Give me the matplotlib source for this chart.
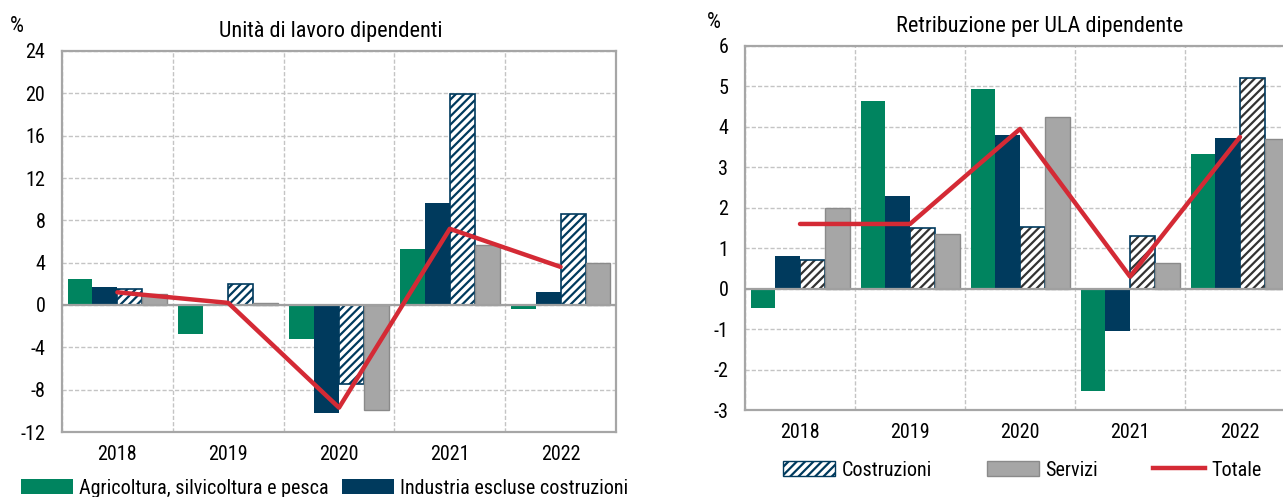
import matplotlib
matplotlib.use("Agg")
import matplotlib.pyplot as plt
from matplotlib import font_manager
from matplotlib.lines import Line2D
from matplotlib.patches import Patch
import numpy as np

# pick a narrow/condensed face if one is installed (reference uses Arial Narrow look)
fp = None
cands = []
for f in font_manager.fontManager.ttflist:
    fn = f.fname.lower()
    if ("narrow" in fn or "condensed" in fn) and "bold" not in fn and "italic" not in fn \
            and "oblique" not in fn and "light" not in fn and "medium" not in fn \
            and "semi" not in fn and "extra" not in fn and "black" not in fn and "thin" not in fn:
        cands.append(f.fname)
for key in ["liberationsansnarrow", "arialn", "robotocondensed", "dejavusanscondensed",
            "opensans_condensed", "condensed"]:
    hit = [c for c in cands if key in c.lower().replace("-", "").replace(" ", "")]
    if hit:
        fp = font_manager.FontProperties(fname=sorted(hit, key=len)[0])
        break
NARROW = fp is not None
if fp is None:
    fp = font_manager.FontProperties(family="Liberation Sans")

years = ["2018", "2019", "2020", "2021", "2022"]
series_names = ["Agricoltura, silvicoltura e pesca", "Industria escluse costruzioni",
                "Costruzioni", "Servizi", "Totale"]

# Unità di lavoro dipendenti (var. %)
ula_agri = [2.5, -2.7, -3.2, 5.3, -0.4]
ula_ind = [1.7, 0.1, -10.2, 9.6, 1.2]
ula_costr = [1.5, 1.95, -7.5, 19.9, 8.6]
ula_serv = [1.05, 0.15, -9.9, 5.7, 3.95]
ula_tot = [1.2, 0.2, -9.7, 7.2, 3.6]

# Retribuzione per ULA dipendente (var. %)
ret_agri = [-0.47, 4.64, 4.94, -2.54, 3.32]
ret_ind = [0.81, 2.28, 3.79, -1.05, 3.72]
ret_costr = [0.72, 1.49, 1.53, 1.30, 5.2]
ret_serv = [2.0, 1.34, 4.24, 0.64, 3.7]
ret_tot = [1.6, 1.6, 3.95, 0.3, 3.75]

GREEN = "#00845f"
NAVY = "#003a5d"
GREY = "#a6a6a6"
GREYEDGE = "#8a8a8a"
RED = "#d42a35"
GRID = "#c4c4c4"

plt.rcParams["hatch.linewidth"] = 1.6

W, H = 1283, 497
fig = plt.figure(figsize=(W / 100, H / 100), dpi=100)


def F(size):
    p = fp.copy()
    p.set_size(size)
    return p


def frac(x0, y0, x1, y1):
    return [x0 / W, 1 - y1 / H, (x1 - x0) / W, (y1 - y0) / H]


TICK = 14.5 if NARROW else 12.5


def draw(ax, agri, ind, costr, serv, tot, ylim, yticks, hatch_color):
    x = np.arange(len(years))
    bw = 0.225
    ax.bar(x - 1.5 * bw, agri, bw, color=GREEN, zorder=3)
    ax.bar(x - 0.5 * bw, ind, bw, color=NAVY, zorder=3)
    ax.bar(x + 0.5 * bw, costr, bw, color="white", edgecolor=hatch_color,
           hatch="////", linewidth=0, zorder=3)
    ax.bar(x + 0.5 * bw, costr, bw, color="none", edgecolor=NAVY,
           linewidth=1.2, zorder=3)
    ax.bar(x + 1.5 * bw, serv, bw, color=GREY, edgecolor=GREYEDGE,
           linewidth=1.0, zorder=3)
    ax.plot(x, tot, color=RED, lw=3.2, zorder=4, solid_capstyle="round")
    ax.axhline(0, color="#a0a0a0", lw=1.6, zorder=3.5)
    ax.set_xlim(-0.5, len(years) - 0.5)
    ax.set_ylim(*ylim)
    ax.set_yticks(yticks)
    ax.set_yticklabels([str(t) for t in yticks], fontproperties=F(TICK))
    ax.set_xticks(x)
    ax.set_xticklabels(years, fontproperties=F(TICK))
    ax.set_xticks(np.arange(len(years) + 1) - 0.5, minor=True)
    ax.tick_params(which="both", length=0, colors="black")
    ax.tick_params(axis="x", pad=9)
    ax.tick_params(axis="y", pad=12)
    ax.grid(True, axis="y", which="major", color=GRID, ls=(0, (3, 1.5)), lw=1.0, zorder=1)
    ax.grid(True, axis="x", which="minor", color=GRID, ls=(0, (3, 1.5)), lw=1.0, zorder=1)
    for s in ax.spines.values():
        s.set_color("#a6a6a6")
        s.set_linewidth(1.6)


TITLE = 16 if NARROW else 14.5
LEG = 14.5 if NARROW else 13

ax1 = fig.add_axes(frac(62, 51, 616, 432))
draw(ax1, ula_agri, ula_ind, ula_costr, ula_serv, ula_tot, (-12, 24),
     list(range(-12, 25, 4)), NAVY)
ax1.set_title("Unità di lavoro dipendenti", fontproperties=F(TITLE), pad=10)
ax1.title.set_x(0.485)
fig.text(17 / W, 1 - 27 / H, "%", fontproperties=F(TICK + 1.5), ha="center", va="center")

ax2 = fig.add_axes(frac(745, 46, 1295, 410))
draw(ax2, ret_agri, ret_ind, ret_costr, ret_serv, ret_tot, (-3, 6),
     list(range(-3, 7)), "#333333")
ax2.set_title("Retribuzione per ULA dipendente", fontproperties=F(TITLE), pad=10)
ax2.title.set_x(0.535)
fig.text(714 / W, 1 - 23 / H, "%", fontproperties=F(TICK + 1.5), ha="center", va="center")

# legends
hp = dict(handlelength=2.6, handleheight=0.7, handletextpad=0.3,
          frameon=False, prop=F(LEG), borderpad=0, borderaxespad=0)
fig.legend(handles=[Patch(facecolor=GREEN, label=series_names[0])],
           loc="center left", bbox_to_anchor=(21 / W, 1 - 488 / H), **hp)
fig.legend(handles=[Patch(facecolor=NAVY, label=series_names[1])],
           loc="center left", bbox_to_anchor=(342 / W, 1 - 488 / H), **hp)
fig.legend(handles=[Patch(facecolor="white", edgecolor=NAVY, hatch="////",
                          label=series_names[2])],
           loc="center left", bbox_to_anchor=(783 / W, 1 - 470 / H), **hp)
fig.legend(handles=[Patch(facecolor=GREY, edgecolor=GREYEDGE, label=series_names[3])],
           loc="center left", bbox_to_anchor=(987 / W, 1 - 470 / H), **hp)
fig.legend(handles=[Line2D([], [], color=RED, lw=3.2, label=series_names[4])],
           loc="center left", bbox_to_anchor=(1153 / W, 1 - 470 / H), **hp)

fig.savefig("out.png", dpi=100)
